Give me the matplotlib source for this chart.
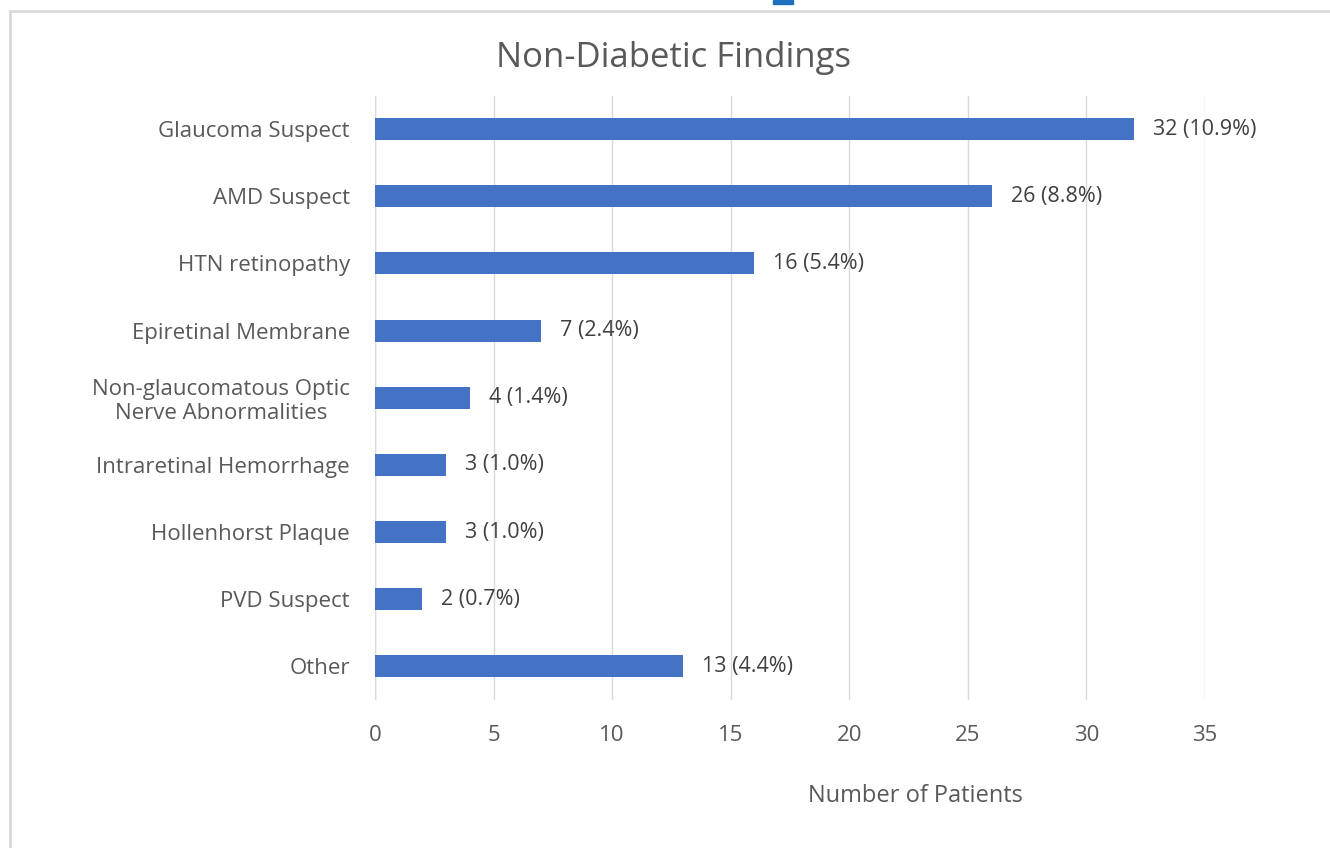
import matplotlib.pyplot as plt
from matplotlib.lines import Line2D
from matplotlib.patches import Rectangle

categories = ['Glaucoma Suspect', 'AMD Suspect', 'HTN retinopathy',
              'Epiretinal Membrane', 'Non-glaucomatous Optic\nNerve Abnormalities',
              'Intraretinal Hemorrhage', 'Hollenhorst Plaque', 'PVD Suspect', 'Other']
counts = [32, 26, 16, 7, 4, 3, 3, 2, 13]
percents = [10.9, 8.8, 5.4, 2.4, 1.4, 1.0, 1.0, 0.7, 4.4]
xticks = [0, 5, 10, 15, 20, 25, 30, 35]

plt.rcParams['font.family'] = ['Open Sans', 'DejaVu Sans']
text_color = '#595959'

W, H = 1330, 848
fig = plt.figure(figsize=(13.3, 8.48), dpi=100)
ax = fig.add_axes([375 / W, 1 - 700 / H, 830 / W, 604.5 / H])

# chart frame (top and left edges visible) and small marker at the top
fig.add_artist(Line2D([10 / W, 1.0], [1 - 11 / H, 1 - 11 / H], transform=fig.transFigure,
                      color='#d9d9d9', linewidth=2))
fig.add_artist(Line2D([10 / W, 10 / W], [0, 1 - 11 / H], transform=fig.transFigure,
                      color='#d9d9d9', linewidth=2))
fig.patches.append(Rectangle((773 / W, 1 - 4 / H), 20 / W, 4 / H,
                             transform=fig.transFigure, color='#1f6fc0'))

y = list(range(len(categories)))
ax.barh(y, counts, height=0.33, color='#4472C4', zorder=3)
for yi, c, p in zip(y, counts, percents):
    ax.text(c + 0.8, yi, f'{c} ({p:.1f}%)', va='center', ha='left',
            fontsize=15.5, color='#404040')

ax.set_xlim(0, 35)
ax.set_ylim(len(categories) - 0.5, -0.5)
ax.set_xticks(xticks)
ax.set_yticks(y)
ax.set_yticklabels(categories, fontsize=16, color=text_color, ha='right',
                   multialignment='center')
ax.tick_params(axis='y', length=0, pad=18)
ax.tick_params(axis='x', length=0, pad=18, labelsize=16, labelcolor=text_color)
ax.grid(axis='x', color='#d9d9d9', linewidth=1, zorder=0)
for s in ax.spines.values():
    s.set_visible(False)
ax.axvline(0, color='#d9d9d9', linewidth=1, zorder=1)

fig.text(674 / W, 1 - 58 / H, 'Non-Diabetic Findings', ha='center', va='center',
         fontsize=25, color=text_color)
fig.text(915 / W, 1 - 796 / H, 'Number of Patients', ha='center', va='center',
         fontsize=17, color=text_color)

fig.savefig('out.png', dpi=100)
